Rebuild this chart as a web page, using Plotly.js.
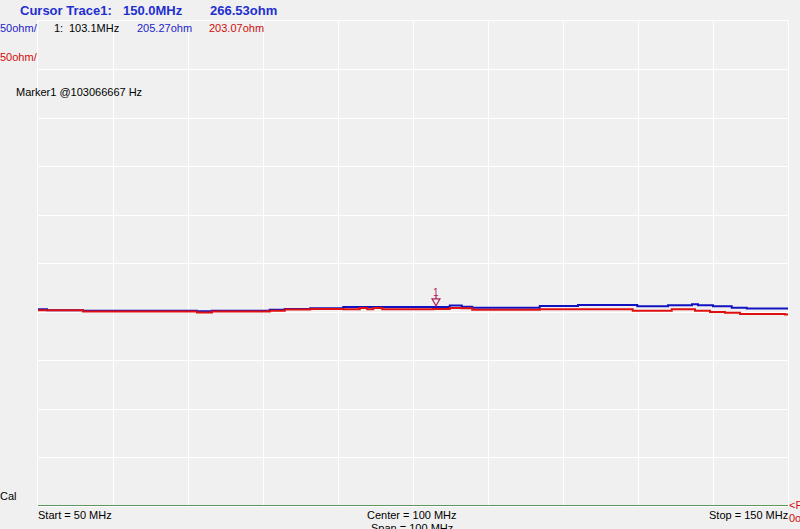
<!DOCTYPE html>
<html>
<head>
<meta charset="utf-8">
<script src="https://cdn.plot.ly/plotly-3.0.1.min.js"></script>
<style>
  html, body { margin: 0; padding: 0; background: #f0f0f0; }
  #chart { width: 800px; height: 529px; }
</style>
</head>
<body>
<div id="chart"></div>
<script>
// ---- data (frequency in MHz, impedance in ohm) ----
const freqBlue = [50.0, 51.2, 56.0, 71.2, 73.2, 80.9, 82.9, 86.3, 90.7, 104.9, 106.5, 107.9, 116.9, 122.0, 129.9, 134.0, 137.2, 138.0, 140.0, 142.5, 144.5, 150.0];
const ohmBlue  = [202.8, 201.8, 201.4, 200.7, 201.4, 202.2, 203.2, 203.8, 205.1, 206.6, 205.3, 204.5, 206.3, 207.3, 205.9, 206.9, 207.9, 206.9, 205.9, 204.5, 203.5, 203.5];

const freqRed = [50.0, 56.0, 71.2, 73.2, 80.9, 82.9, 86.3, 90.7, 92.9, 93.9, 94.7, 95.9, 102.7, 104.9, 106.5, 107.9, 116.9, 129.3, 134.5, 137.6, 139.6, 141.6, 143.6, 149.6, 150.0];
const ohmRed  = [201.8, 200.4, 199.4, 200.4, 201.4, 202.5, 203.0, 202.8, 204.2, 202.8, 204.2, 202.8, 203.1, 204.2, 203.8, 202.2, 202.8, 201.4, 202.8, 201.4, 200.1, 199.1, 198.0, 197.3, 197.3];

const markerFreq = 103.066667;
const markerBlue = 205.27;
const markerRed = 203.07;

const startMHz = 50, stopMHz = 150, centerMHz = 100, spanMHz = 100;
const ohmPerDiv = 50, refOhm = 0, topOhm = 500;

// ---- layout helpers (pixel -> paper) ----
const L = 38, R = 788, T = 21, B = 506;
const px = x => (x - L) / (R - L);
const py = y => (B - y) / (B - T);

const FONT = "Liberation Sans, Arial, sans-serif";
const BLUE_T = "#1c1cc8", RED_T = "#d00c0c";

function txt(text, x, y, color, opts) {
  opts = opts || {};
  return Object.assign({
    text: text, xref: "paper", yref: "paper", x: px(x), y: py(y),
    xanchor: "left", yanchor: "middle", showarrow: false,
    font: { family: FONT, size: 11, color: color }
  }, opts);
}
const boldBlue = { font: { family: FONT, size: 13, color: "#1f2fd0", weight: "bold" } };

const annotations = [
  txt("Cursor Trace1:", 18, 10, "#1f2fd0", boldBlue),
  txt(stopMHz.toFixed(1) + "MHz", 121, 10, "#1f2fd0", boldBlue),
  txt("266.53ohm", 208, 10, "#1f2fd0", boldBlue),
  txt(ohmPerDiv + "ohm/", -2, 28, BLUE_T),
  txt(ohmPerDiv + "ohm/", -2, 57, RED_T),
  txt("1:", 52, 28, "#000"),
  txt((Math.round(markerFreq * 10) / 10).toFixed(1) + "MHz", 67, 28, "#000"),
  txt(markerBlue.toFixed(2) + "ohm", 135, 28, BLUE_T),
  txt(markerRed.toFixed(2) + "ohm", 207, 28, RED_T),
  txt("Marker1 @" + Math.round(markerFreq * 1e6) + " Hz", 14, 92, "#000"),
  txt("Cal", -2, 496, "#000"),
  txt("Start = " + startMHz + " MHz", 36, 515, "#000"),
  txt("Center = " + centerMHz + " MHz", 412, 515, "#000", { xanchor: "center" }),
  txt("Span = " + spanMHz + " MHz", 412, 528, "#000", { xanchor: "center" }),
  txt("Stop = " + stopMHz + " MHz", 790, 515, "#000", { xanchor: "right" }),
  txt("<F", 787, 505, RED_T),
  txt(refOhm + "ohm", 787, 518, RED_T),
  // marker label "1"
  { text: "1", xref: "x", yref: "y", x: markerFreq, y: markerBlue, yshift: 14,
    xanchor: "center", yanchor: "middle", showarrow: false,
    font: { family: FONT, size: 10, color: "#b02060" } }
];

const MK = "#b02060";
const shapes = [
  // reference (bottom) line
  { type: "line", xref: "paper", yref: "y", x0: 0, x1: 1, y0: refOhm, y1: refOhm,
    line: { color: "#2c7a2c", width: 1.5 }, layer: "above" },
  // marker triangle
  { type: "path", xref: "x", yref: "y", xsizemode: "pixel", ysizemode: "pixel",
    xanchor: markerFreq, yanchor: markerBlue,
    path: "M -4 8 L 4 8 L 0 1 Z", line: { color: MK, width: 1.2 }, layer: "above" },
  // marker stem
  { type: "path", xref: "x", yref: "y", xsizemode: "pixel", ysizemode: "pixel",
    xanchor: markerFreq, yanchor: markerBlue,
    path: "M 0 8 L 0 12", line: { color: MK, width: 1.2 }, layer: "above" }
];

const traces = [
  { x: freqBlue, y: ohmBlue, type: "scatter", mode: "lines",
    line: { color: "#1212c0", width: 2, shape: "hv" }, hoverinfo: "skip" },
  { x: freqRed, y: ohmRed, type: "scatter", mode: "lines",
    line: { color: "#e01010", width: 2, shape: "hv" }, hoverinfo: "skip" }
];

const axisCommon = {
  showgrid: true, gridcolor: "#ffffff", gridwidth: 1,
  showline: true, linecolor: "#ffffff", linewidth: 1, mirror: true,
  zeroline: false, ticks: "", showticklabels: false, fixedrange: true
};

const layout = {
  width: 800, height: 529,
  margin: { l: L, r: 800 - R, t: T, b: 529 - B, pad: 0 },
  paper_bgcolor: "#f0f0f0", plot_bgcolor: "#f0f0f0",
  showlegend: false,
  xaxis: Object.assign({}, axisCommon, { range: [startMHz, stopMHz], tick0: startMHz, dtick: spanMHz / 10 }),
  yaxis: Object.assign({}, axisCommon, { range: [refOhm, topOhm], tick0: refOhm, dtick: ohmPerDiv }),
  annotations: annotations,
  shapes: shapes
};

Plotly.newPlot("chart", traces, layout, { displayModeBar: false, staticPlot: true });
</script>
</body>
</html>
